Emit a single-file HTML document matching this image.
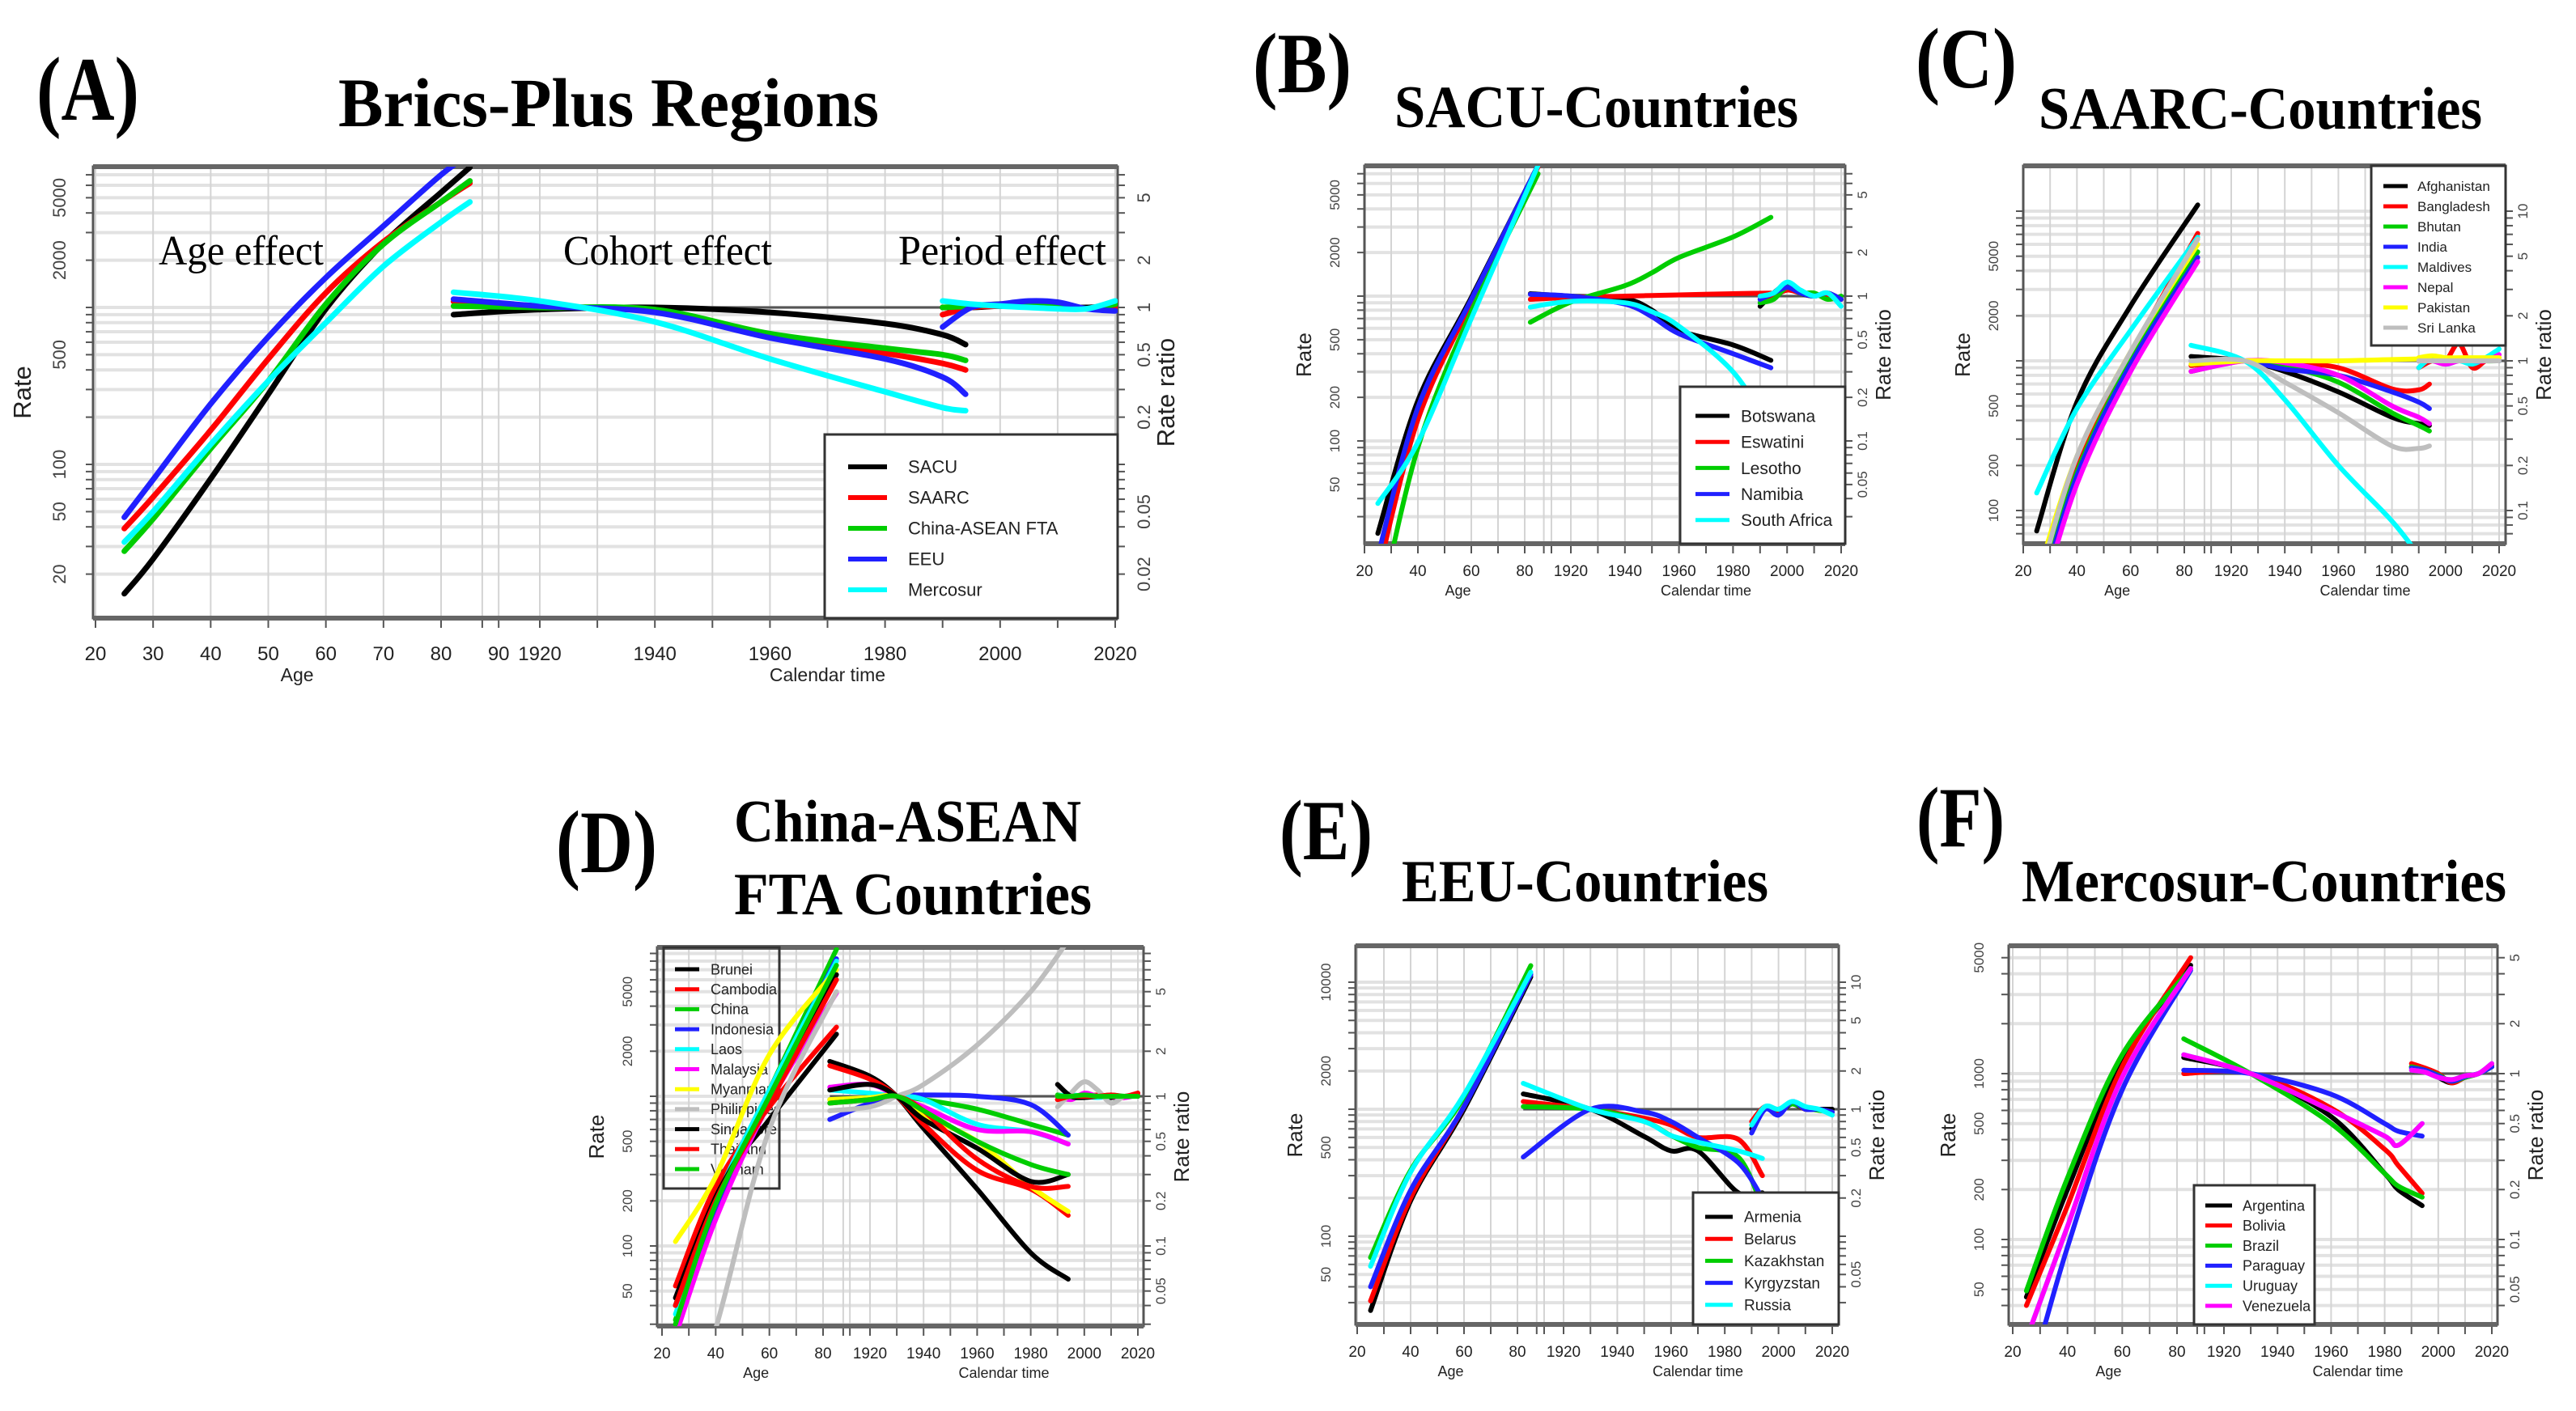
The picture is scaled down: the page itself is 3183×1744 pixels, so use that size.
<!DOCTYPE html>
<html><head><meta charset="utf-8"><title>APC effects</title>
<style>html,body{margin:0;padding:0;background:#fff;}svg{display:block;}</style></head>
<body>
<svg id="fig" xmlns="http://www.w3.org/2000/svg" width="3183" height="1744" viewBox="0 0 3183 1744">
<rect x="0" y="0" width="3183" height="1744" fill="#fff"/>
<g font-family="'Liberation Serif', serif" font-weight="bold" fill="#000">
<text x="45" y="148" font-size="112" textLength="127" lengthAdjust="spacingAndGlyphs">(A)</text>
<text x="418" y="156" font-size="86" textLength="668" lengthAdjust="spacingAndGlyphs">Brics-Plus Regions</text>
<text x="1548" y="114" font-size="106" textLength="122" lengthAdjust="spacingAndGlyphs">(B)</text>
<text x="1723" y="157" font-size="74" textLength="499" lengthAdjust="spacingAndGlyphs">SACU-Countries</text>
<text x="2367" y="108" font-size="106" textLength="125" lengthAdjust="spacingAndGlyphs">(C)</text>
<text x="2519" y="159" font-size="74" textLength="548" lengthAdjust="spacingAndGlyphs">SAARC-Countries</text>
<text x="687" y="1078" font-size="110" textLength="125" lengthAdjust="spacingAndGlyphs">(D)</text>
<text x="907" y="1040" font-size="74" textLength="429" lengthAdjust="spacingAndGlyphs">China-ASEAN</text>
<text x="907" y="1130" font-size="74" textLength="442" lengthAdjust="spacingAndGlyphs">FTA Countries</text>
<text x="1581" y="1062" font-size="106" textLength="115" lengthAdjust="spacingAndGlyphs">(E)</text>
<text x="1732" y="1114" font-size="74" textLength="453" lengthAdjust="spacingAndGlyphs">EEU-Countries</text>
<text x="2368" y="1046" font-size="106" textLength="109" lengthAdjust="spacingAndGlyphs">(F)</text>
<text x="2498" y="1114" font-size="74" textLength="599" lengthAdjust="spacingAndGlyphs">Mercosur-Countries</text>
</g>
</svg>
<script>
// ---------- Panel A data ----------
const aNames = ["SACU","SAARC","China-ASEAN FTA","EEU","Mercosur"];
const aAges = [25,30,40,50,60,70,80,85];
const aRates = [
 [15,25,81,280,980,2560,5400,7800],
 [39,62,165,470,1240,2620,4700,6200],
 [28,45,126,340,1050,2530,4700,6400],
 [46,80,243,650,1550,3300,7000,9500],
 [32,50,134,340,800,1830,3500,4700]];
const aCohorts = [1905,1920,1940,1960,1980,1990,1994];
const aCohortRatios = [
 [0.90,0.97,1.0,0.93,0.79,0.67,0.58],
 [1.09,1.02,0.94,0.65,0.51,0.44,0.40],
 [1.02,1.0,0.97,0.68,0.55,0.50,0.46],
 [1.13,1.02,0.93,0.64,0.47,0.36,0.28],
 [1.25,1.10,0.81,0.47,0.29,0.23,0.22]];
const aPeriods = [1990,1995,2000,2005,2010,2015,2020];
const aPeriodRatios = [
 [1.0,1.0,1.02,1.02,1.0,1.0,1.02],
 [0.9,1.0,1.02,1.03,1.0,0.98,1.0],
 [1.0,1.02,1.05,1.05,1.0,0.98,1.05],
 [0.75,1.0,1.05,1.1,1.08,0.98,0.95],
 [1.1,1.05,1.02,1.0,0.98,0.98,1.1]];
// ---------- Panel B data ----------
const bNames = ["Botswana","Eswatini","Lesotho","Namibia","South Africa"];
const bAges = [25,40,60,85];
const bRates = [[23,190,980,8000],[12,140,900,7800],[6,90,780,7000],[16,170,950,8000],[37,98,700,8000]];
const bCohorts = [1905,1920,1940,1950,1960,1980,1994];
const bCohortRatios = [
 [1.04,1.0,0.96,0.8,0.58,0.46,0.36],
 [0.95,0.98,1.0,1.01,1.02,1.04,1.05],
 [0.66,0.91,1.18,1.45,1.85,2.56,3.5],
 [1.03,1.0,0.88,0.72,0.55,0.40,0.32],
 [0.84,0.92,0.9,0.78,0.62,0.3,0.12]];
const bPeriods = [1990,1995,2000,2005,2010,2015,2020];
const bPeriodRatios = [
 [0.85,1.05,1.2,1.05,1.0,1.05,0.95],
 [0.95,1.0,1.1,1.05,1.02,1.0,0.95],
 [0.9,0.95,1.15,1.05,1.05,0.95,1.0],
 [0.95,1.05,1.15,1.05,1.0,1.05,0.95],
 [1.0,1.05,1.25,1.1,1.0,1.05,0.85]];
// ---------- Panel C data ----------
const cNames = ["Afghanistan","Bangladesh","Bhutan","India","Maldives","Nepal","Pakistan","Sri Lanka"];
const cAges = [25,40,60,85];
const cRates = [[73,530,2330,11000],[25,200,1100,7100],[25,180,1000,5350],[22,170,950,4900],[131,480,1600,6700],[20,150,850,4600],[35,230,1150,6000],[30,230,1150,6500]];
const cCohorts = [1905,1925,1940,1960,1980,1990,1994];
const cCohortRatios = [
 [1.07,1.0,0.85,0.62,0.42,0.38,0.37],
 [0.93,1.0,0.97,0.9,0.65,0.64,0.7],
 [0.85,1.0,0.92,0.72,0.45,0.37,0.34],
 [1.0,1.0,0.88,0.8,0.62,0.53,0.48],
 [1.27,1.0,0.55,0.2,0.085,0.05,0.04],
 [0.85,1.0,0.97,0.8,0.5,0.42,0.38],
 [0.95,1.0,1.0,1.0,1.02,1.03,1.03],
 [1.0,1.0,0.72,0.45,0.27,0.26,0.27]];
const cPeriods = [1990,1995,2000,2005,2010,2015,2020];
const cPeriodRatios = [
 [1,1,1,1,1,1,1],[0.9,1.0,1.0,1.3,0.9,1.0,1.05],[1.0,1.02,1.0,1.0,1.02,1.0,1.0],[1.0,1.0,1.02,1.02,1.0,1.0,1.0],
 [0.9,1.05,0.95,1.0,0.95,1.05,1.2],[1.0,1.0,0.95,1.0,1.0,1.0,1.1],[1.05,1.08,1.05,1.05,1.05,1.05,1.05],[1,1,1,1,1,1,1]];
// ---------- Panel D data ----------
const dNames = ["Brunei","Cambodia","China","Indonesia","Laos","Malaysia","Myanmar","Philippines","Singapore","Thailand","Vietnam"];
const dAges = [25,40,60,85];
const dRates = [[40,230,700,2600],[54,250,850,2900],[32,180,1100,9600],[28,170,1050,8300],[35,200,1100,8000],[25,150,900,4900],[107,290,1900,7000],[5,28,600,5000],[45,210,900,6500],[40,200,900,6000],[30,190,1000,7500]];
const dCohorts = [1905,1920,1930,1940,1960,1980,1994];
const dCohortRatios = [
 [1.71,1.36,1.0,0.61,0.24,0.09,0.06],
 [1.6,1.3,1.0,0.65,0.32,0.24,0.16],
 [0.95,0.98,1.0,0.95,0.82,0.65,0.55],
 [0.7,0.9,1.0,1.02,1.0,0.88,0.55],
 [1.1,1.05,1.0,0.95,0.65,0.58,0.48],
 [1.15,1.2,1.0,0.85,0.6,0.58,0.48],
 [0.95,0.98,1.0,0.75,0.5,0.25,0.17],
 [0.8,0.85,1.0,1.2,2.2,5.0,11.0],
 [1.1,1.2,1.0,0.7,0.45,0.27,0.3],
 [0.9,0.95,1.0,0.8,0.38,0.25,0.25],
 [0.9,0.95,1.0,0.8,0.5,0.35,0.3]];
const dPeriods = [1990,1995,2000,2005,2010,2015,2020];
const dPeriodRatios = [
 [1.0,1.0,1.02,1.0,0.98,1.0,1.0],[0.95,1.0,1.0,1.02,1.0,0.98,1.05],[1.02,1.0,1.0,1.0,1.02,1.0,1.0],[1.0,1.0,1.0,1.0,1.0,1.0,1.0],
 [1.0,1.02,1.0,0.98,1.0,1.0,1.0],[1.0,0.95,1.05,1.0,1.0,0.98,1.02],[1.0,1.0,1.0,1.0,1.0,1.0,1.0],[0.85,1.05,1.25,1.1,0.9,1.0,1.0],
 [1.2,1.0,0.98,1.0,1.0,1.0,1.0],[0.95,1.0,1.0,1.0,1.02,1.0,1.05],[1.0,1.0,1.02,1.0,1.0,1.0,1.0]];
// ---------- Panel E data ----------
const eNames = ["Armenia","Belarus","Kazakhstan","Kyrgyzstan","Russia"];
const eAges = [25,40,60,85];
const eRates = [[26,190,1000,11000],[31,200,1050,11500],[68,330,1250,13500],[40,230,1050,11500],[58,320,1300,12000]];
const eCohorts = [1905,1930,1950,1960,1970,1985,1994];
const eCohortRatios = [
 [1.32,1.0,0.61,0.47,0.47,0.22,0.22],
 [1.15,1.0,0.85,0.75,0.6,0.58,0.3],
 [1.05,1.0,0.8,0.62,0.5,0.42,0.17],
 [0.42,1.0,0.95,0.8,0.6,0.38,0.2],
 [1.6,1.0,0.8,0.62,0.55,0.47,0.41]];
const ePeriods = [1990,1995,2000,2005,2010,2015,2020];
const ePeriodRatios = [
 [0.7,1.0,0.95,1.1,1.0,1.0,1.0],[0.8,1.05,0.95,1.12,1.0,1.0,0.95],[0.75,1.02,1.0,1.1,1.02,0.98,0.95],[0.65,1.0,0.9,1.15,1.0,1.0,0.95],[0.75,1.05,1.0,1.15,1.05,1.0,0.9]];
// ---------- Panel F data ----------
const fNames = ["Argentina","Bolivia","Brazil","Paraguay","Uruguay","Venezuela"];
const fAges = [25,40,60,85];
const fRates = [[45,200,1200,4500],[40,160,1100,5000],[49,235,1300,4300],[12,90,800,4200],[25,120,950,4300],[25,120,950,4300]];
const fCohorts = [1905,1930,1960,1980,1985,1994];
const fCohortRatios = [
 [1.25,1.0,0.55,0.25,0.2,0.16],
 [1.0,1.0,0.62,0.35,0.28,0.19],
 [1.62,1.0,0.5,0.25,0.21,0.18],
 [1.05,1.0,0.75,0.5,0.45,0.42],
 [1.3,1.0,0.6,0.42,0.37,0.5],
 [1.3,1.0,0.6,0.42,0.37,0.5]];
const fPeriods = [1990,1995,2000,2005,2010,2015,2020];
const fPeriodRatios = [
 [1.1,1.05,0.95,0.88,0.95,1.0,1.1],[1.15,1.08,1.0,0.88,0.95,1.0,1.12],[1.1,1.05,0.98,0.9,0.95,1.0,1.1],[1.08,1.05,0.97,0.9,0.96,1.0,1.1],[1.05,1.02,0.95,0.92,0.97,1.0,1.15],[1.05,1.02,0.95,0.92,0.97,1.0,1.15]];

const PAL = ["#000000","#ff0000","#00cd00","#2020ff","#00ffff","#ff00ff","#ffff00","#bebebe"];
const NS = "http://www.w3.org/2000/svg";
const svg = document.getElementById("fig");
function mk(tag, parent){ const el=document.createElementNS(NS,tag); parent.appendChild(el); return el; }
function att(el,o){ for(const k in o) el.setAttribute(k,o[k]); return el; }
function smooth(pts){
  let d="M"+pts[0][0].toFixed(1)+" "+pts[0][1].toFixed(1);
  for(let i=0;i<pts.length-1;i++){
    const p0=pts[Math.max(i-1,0)],p1=pts[i],p2=pts[i+1],p3=pts[Math.min(i+2,pts.length-1)];
    const c1=[p1[0]+(p2[0]-p0[0])/6,p1[1]+(p2[1]-p0[1])/6], c2=[p2[0]-(p3[0]-p1[0])/6,p2[1]-(p3[1]-p1[1])/6];
    d+=" C"+c1[0].toFixed(1)+" "+c1[1].toFixed(1)+" "+c2[0].toFixed(1)+" "+c2[1].toFixed(1)+" "+p2[0].toFixed(1)+" "+p2[1].toFixed(1);
  }
  return d;
}
function fmtTick(v){ return String(v); }

function drawPanel(id, p, names, ages, rates, cohorts, cratios, periods, pratios){
  const g = mk("g", svg);
  
  
  const xAge = a => p.a20 + (a-20)*(p.a80-p.a20)/60;
  const xCal = t => p.c1920 + (t-1920)*(p.c2020-p.c1920)/100;
  const yRate = v => p.yK - (Math.log10(v)-3)*p.dec;
  const yRatio = r => yRate(1000*r);
  const W=p.x1-p.x0, H=p.y1-p.y0;
  const cp = mk("clipPath", g); cp.setAttribute("id","clip-"+id);
  att(mk("rect",cp),{x:p.x0,y:p.y0,width:W,height:H});
  const grid = mk("g", g);
  
  
  for(let n=-2;n<=5;n++) for(let k=1;k<=9;k++){
    const y=yRate(k*Math.pow(10,n));
    if(y<p.y0+2||y>p.y1-2) continue;
    att(mk("line",grid),{x1:p.x0,x2:p.x1,y1:y,y2:y,stroke:"#e2e2e2","stroke-width":4});
    att(mk("line",grid),{x1:p.x0-9,x2:p.x0,y1:y,y2:y,stroke:"#555","stroke-width":2});
    att(mk("line",grid),{x1:p.x1,x2:p.x1+9,y1:y,y2:y,stroke:"#555","stroke-width":2});
  }
  const vx=[];
  for(let a=20;a<=90;a+=10){ const x=xAge(a); if(x<p.c1920-12) vx.push(x); }
  for(let t=1910;t<=2020;t+=10){ const x=xCal(t); if(x>xAge(80)+15 && x<=p.x1+2) vx.push(x); }
  vx.forEach(x=>{
    att(mk("line",grid),{x1:x,x2:x,y1:p.y0,y2:p.y1,stroke:"#d4d4d4","stroke-width":2});
    att(mk("line",grid),{x1:x,x2:x,y1:p.y1,y2:p.y1+12,stroke:"#555","stroke-width":2});
  });
  const box = att(mk("rect",g),{x:p.x0,y:p.y0,width:W,height:H,fill:"none",stroke:"#555","stroke-width":3});
  
  
  att(mk("line",g),{x1:p.x0,x2:p.x1,y1:p.y0,y2:p.y0,stroke:"#666","stroke-width":6});
  att(mk("line",g),{x1:p.x0,x2:p.x1,y1:p.y1,y2:p.y1,stroke:"#666","stroke-width":6});
  const tl = mk("g", g);
  
  
  att(tl,{"font-family":"'Liberation Sans', sans-serif",fill:"#222","text-anchor":"middle"});
  p.ageTicks.forEach(a=>{
    const t=att(mk("text",tl),{x:xAge(a),y:p.y1+p.tickDy,"font-size":p.tfs});
    t.textContent=a;
    
    
  });
  p.calTicks.forEach(c=>{
    const t=att(mk("text",tl),{x:xCal(c),y:p.y1+p.tickDy,"font-size":p.tfs});
    t.textContent=c;
    
    
  });
  p.rateTicks.forEach(v=>{
    const y=yRate(v), x=p.x0-p.lDx;
    const t=att(mk("text",tl),{x:x,y:y,"font-size":p.tfs-2,transform:"rotate(-90 "+x+" "+y+")",fill:"#444"});
    t.textContent=fmtTick(v);
    
    
  });
  p.ratioTicks.forEach(r=>{
    const y=yRatio(r), x=p.x1+p.rDx;
    const t=att(mk("text",tl),{x:x,y:y,"font-size":p.tfs-2,transform:"rotate(-90 "+x+" "+y+")",fill:"#444"});
    t.textContent=fmtTick(r);
    
    
  });
  const ym=(p.y0+p.y1)/2;
  let t=att(mk("text",tl),{x:xAge(55),y:p.y1+p.titleDy,"font-size":p.tfs-1});
  t.textContent="Age";
  
  
  t=att(mk("text",tl),{x:xCal(1970),y:p.y1+p.titleDy,"font-size":p.tfs-1});
  t.textContent="Calendar time";
  
  
  let x=p.x0-p.lTx;
  t=att(mk("text",tl),{x:x,y:ym,"font-size":p.afs,transform:"rotate(-90 "+x+" "+ym+")"});
  t.textContent="Rate";
  
  
  x=p.x1+p.rTx;
  t=att(mk("text",tl),{x:x,y:ym,"font-size":p.afs,transform:"rotate(-90 "+x+" "+ym+")"});
  t.textContent="Rate ratio";
  
  
  const L=p.leg;
  const drawLegend = () => {
    const lg = mk("g", g);
    
    
    att(mk("rect",lg),{x:L.x,y:L.y,width:L.w,height:L.h,fill:L.fill,stroke:"#333","stroke-width":3});
    names.forEach((nm,i)=>{
      const yy=L.ey0+i*L.step;
      const ln=att(mk("line",lg),{x1:L.lx,x2:L.lx+L.ll,y1:yy,y2:yy,stroke:PAL[i%8],"stroke-width":p.lw-1});
      
      
      const tx=att(mk("text",lg),{x:L.lx+L.ll+L.gap,y:yy+L.fs*0.35,"font-size":L.fs,"font-family":"'Liberation Sans', sans-serif",fill:"#222"});
      tx.textContent=nm;
      
      
    });
  };
  if(L.fill==="none") drawLegend();
  const sg = mk("g", g);
  
  
  sg.setAttribute("clip-path","url(#clip-"+id+")");
  att(mk("line",sg),{x1:xCal(cohorts[0]),x2:p.x1,y1:yRatio(1),y2:yRatio(1),stroke:"#555","stroke-width":3});
  names.forEach((nm,i)=>{
    const col=PAL[i%8];
    const slug=nm.toLowerCase().replace(/[^a-z]+/g,'-');
    let e=att(mk("path",sg),{d:smooth(ages.map((a,j)=>[xAge(a),yRate(rates[i][j])])),fill:"none",stroke:col,"stroke-width":p.lw,"stroke-linecap":"round"});
    
    
    e=att(mk("path",sg),{d:smooth(cohorts.map((c,j)=>[xCal(c),yRatio(cratios[i][j])])),fill:"none",stroke:col,"stroke-width":p.lw,"stroke-linecap":"round"});
    
    
    e=att(mk("path",sg),{d:smooth(periods.map((c,j)=>[xCal(c),yRatio(pratios[i][j])])),fill:"none",stroke:col,"stroke-width":p.lw,"stroke-linecap":"round"});
    
    
  });
  if(L.fill!=="none") drawLegend();
  return g;
}

const small = {tickDy:40,titleDy:64,tfs:19,afs:26,lDx:31,lTx:66,rDx:27,rTx:56,lw:6,ageTicks:[20,40,60,80],calTicks:[1920,1940,1960,1980,2000,2020]};
drawPanel("a",{x0:115,x1:1381,y0:206,y1:764,a20:118,a80:545,c1920:667,c2020:1378,yK:380,dec:194,
  tickDy:52,titleDy:78,tfs:24,afs:31,lDx:34,lTx:77,rDx:40,rTx:70,lw:7,
  ageTicks:[20,30,40,50,60,70,80,90],calTicks:[1920,1940,1960,1980,2000,2020],
  rateTicks:[20,50,100,500,2000,5000],ratioTicks:[0.02,0.05,0.2,0.5,1,2,5],
  leg:{x:1019,y:537,w:362,h:227,ey0:577,step:38,lx:1048,ll:48,gap:26,fs:22,fill:"#fff"}},
  aNames,aAges,aRates,aCohorts,aCohortRatios,aPeriods,aPeriodRatios);
drawPanel("b",Object.assign({},small,{x0:1686,x1:2280,y0:205,y1:672,a20:1686,a80:1884,c1920:1941,c2020:2275,yK:366,dec:179,
  rateTicks:[50,100,200,500,2000,5000],ratioTicks:[0.05,0.1,0.2,0.5,1,2,5],
  leg:{x:2076,y:478,w:204,h:194,ey0:514,step:32.2,lx:2095,ll:42,gap:14,fs:21,fill:"#fff"}}),
  bNames,bAges,bRates,bCohorts,bCohortRatios,bPeriods,bPeriodRatios);
drawPanel("c",Object.assign({},small,{x0:2500,x1:3096,y0:205,y1:672,a20:2500,a80:2699,c1920:2757,c2020:3088,yK:446,dec:185,
  rateTicks:[100,200,500,2000,5000],ratioTicks:[0.1,0.2,0.5,1,2,5,10],
  leg:{x:2930,y:205,w:166,h:222,ey0:230,step:25,lx:2945,ll:30,gap:12,fs:17,fill:"#fff"}}),
  cNames,cAges,cRates,cCohorts,cCohortRatios,cPeriods,cPeriodRatios);
drawPanel("d",Object.assign({},small,{x0:812,x1:1413,y0:1171,y1:1639,a20:818,a80:1017,c1920:1075,c2020:1406,yK:1355,dec:185,
  rateTicks:[50,100,200,500,2000,5000],ratioTicks:[0.05,0.1,0.2,0.5,1,2,5],
  leg:{x:820,y:1171,w:143,h:298,ey0:1198,step:24.7,lx:834,ll:30,gap:14,fs:18,fill:"none"}}),
  dNames,dAges,dRates,dCohorts,dCohortRatios,dPeriods,dPeriodRatios);
drawPanel("e",Object.assign({},small,{x0:1675,x1:2272,y0:1169,y1:1637,a20:1677,a80:1875,c1920:1932,c2020:2264,yK:1371,dec:157,
  rateTicks:[50,100,500,2000,10000],ratioTicks:[0.05,0.2,0.5,1,2,5,10],
  leg:{x:2092,y:1474,w:180,h:163,ey0:1504,step:27.2,lx:2107,ll:34,gap:14,fs:19,fill:"#fff"}}),
  eNames,eAges,eRates,eCohorts,eCohortRatios,ePeriods,ePeriodRatios);
drawPanel("f",Object.assign({},small,{x0:2482,x1:3086,y0:1169,y1:1637,a20:2487,a80:2690,c1920:2748,c2020:3079,yK:1327,dec:205,
  rateTicks:[50,100,200,500,1000,5000],ratioTicks:[0.05,0.1,0.2,0.5,1,2,5],
  leg:{x:2711,y:1465,w:149,h:172,ey0:1490,step:24.8,lx:2725,ll:33,gap:13,fs:18,fill:"#fff"}}),
  fNames,fAges,fRates,fCohorts,fCohortRatios,fPeriods,fPeriodRatios);

const ann = [["Age effect",196,400],["Cohort effect",696,954],["Period effect",1110,1367]];
ann.forEach(a=>{
  const t=att(mk("text",svg),{x:a[1],y:327,"font-size":52,"font-family":"'Liberation Serif', serif",textLength:a[2]-a[1],lengthAdjust:"spacingAndGlyphs",fill:"#000"});
  t.textContent=a[0];
  
  
});
</script>
</body></html>
